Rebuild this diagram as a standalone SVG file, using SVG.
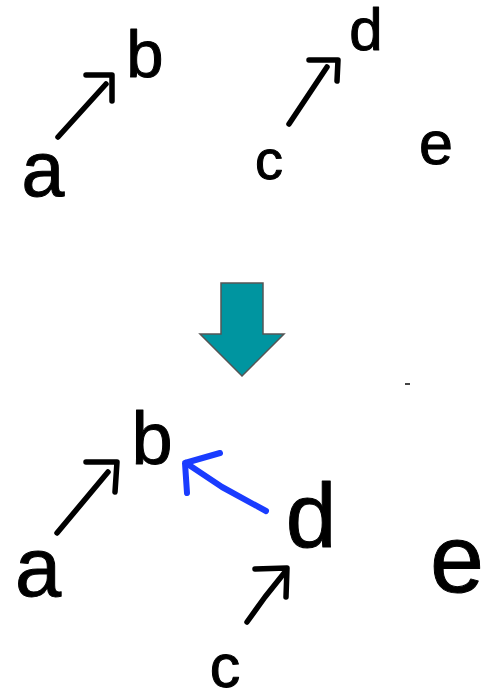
<svg xmlns="http://www.w3.org/2000/svg" width="481" height="693" viewBox="0 0 481 693">
  <style>
    .lbl { font-family: "Liberation Sans", Arial, sans-serif; fill: #000; stroke: #000; stroke-width: 1; stroke-linejoin: round; text-anchor: middle; }
    .pen { fill: none; stroke: #000; stroke-width: 5.5; stroke-linecap: round; stroke-linejoin: round; }
    .pen-blue { fill: none; stroke: #1a3cff; stroke-width: 6; stroke-linecap: round; stroke-linejoin: round; }
  </style>
  <rect width="481" height="693" fill="#fff"/>

  <!-- before: a -> b, c -> d, e alone -->
  <g id="top-a"><text class="lbl" x="43" y="196" font-size="77">a</text></g>
  <g id="top-b"><text class="lbl" x="145" y="77" font-size="67">b</text></g>
  <g id="top-c"><text class="lbl" x="269" y="179" font-size="56">c</text></g>
  <g id="top-d"><text class="lbl" x="366" y="50" font-size="60">d</text></g>
  <g id="top-e"><text class="lbl" x="436" y="164" font-size="61">e</text></g>

  <!-- transition arrow -->
  <g id="transition">
    <polygon points="221,283 263,283 263,334 284,334 242,376 200,334 221,334" fill="#0095a0" stroke="#555" stroke-width="1.5"/>
    <rect x="405" y="383" width="5" height="2" fill="#444"/>
  </g>

  <!-- after: a -> b, c -> d, d -> b, e alone -->
  <g id="bot-a"><text class="lbl" x="38" y="596" font-size="83">a</text></g>
  <g id="bot-b"><text class="lbl" x="152" y="464" font-size="74">b</text></g>
  <g id="bot-c"><text class="lbl" x="225" y="687" font-size="61">c</text></g>
  <g id="bot-d"><text class="lbl" x="311" y="547" font-size="91">d</text></g>
  <g id="bot-e"><text class="lbl" x="457" y="592" font-size="97">e</text></g>

  <g id="connectors">
    <!-- top a -> b -->
    <path class="pen" d="M58,137 L106,84"/>
    <path class="pen" d="M86,75 L112,75 L112,101"/>
    <!-- top c -> d -->
    <path class="pen" d="M289,124 L327,67"/>
    <path class="pen" d="M309,60 L338,60 L337,81"/>
    <!-- bottom a -> b -->
    <path class="pen" d="M57,533 L108,472"/>
    <path class="pen" d="M86,462 L117,462 L115,492"/>
    <!-- bottom c -> d -->
    <path class="pen" d="M247,622 L265,597 L285,572"/>
    <path class="pen" d="M255,569 L287,568 L286,597"/>
    <!-- bottom d -> b (blue) -->
    <path class="pen-blue" d="M266,511 L222,487 L186,463"/>
    <path class="pen-blue" d="M220,453 L185,463 L187,493"/>
  </g>
</svg>
